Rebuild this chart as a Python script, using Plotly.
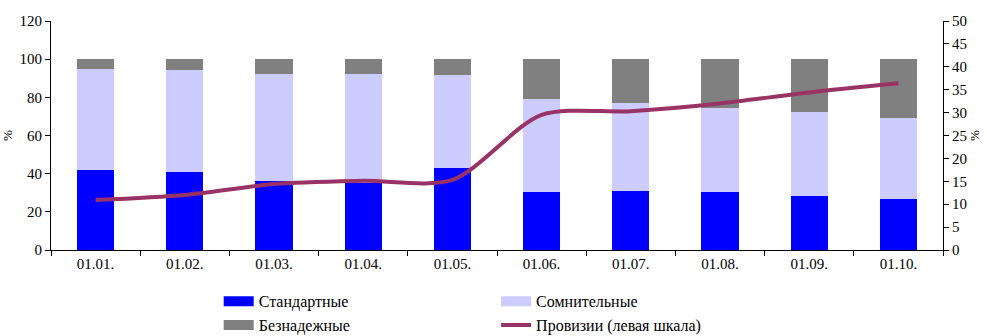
import plotly.graph_objects as go

categories = ["01.01.", "01.02.", "01.03.", "01.04.", "01.05.", "01.06.", "01.07.", "01.08.", "01.09.", "01.10."]
standard = [42.0, 40.7, 36.3, 35.3, 42.8, 30.2, 30.9, 30.2, 28.1, 26.6]
doubtful = [53.0, 53.8, 56.1, 57.1, 48.7, 48.9, 46.0, 44.1, 44.1, 42.7]
hopeless = [5.0, 5.5, 7.6, 7.6, 8.5, 20.9, 23.1, 25.7, 27.8, 30.7]
provisions = [10.9, 12.0, 14.4, 15.1, 15.3, 29.5, 30.3, 32.0, 34.4, 36.4]

left_ticks = [0, 20, 40, 60, 80, 100, 120]
right_ticks = [0, 5, 10, 15, 20, 25, 30, 35, 40, 45, 50]

c_std = "#0000FF"
c_dbt = "#CCCCFF"
c_hop = "#808080"
c_prv = "#993366"
font_family = "Liberation Serif, serif"

fig = go.Figure()
fig.add_bar(x=categories, y=standard, name="Стандартные", marker=dict(color=c_std, line_width=0), showlegend=False)
fig.add_bar(x=categories, y=doubtful, name="Сомнительные", marker=dict(color=c_dbt, line_width=0), showlegend=False)
fig.add_bar(x=categories, y=hopeless, name="Безнадежные", marker=dict(color=c_hop, line_width=0), showlegend=False)
fig.add_scatter(x=categories, y=provisions, name="Провизии (левая шкала)", yaxis="y2", mode="lines",
                line=dict(color=c_prv, width=4, shape="spline", smoothing=0.8), showlegend=False)

# legend entries
def leg(name, color, width, legend, group):
    fig.add_scatter(x=[None], y=[None], name=name, mode="lines", line=dict(color=color, width=width),
                    legend=legend, legendgroup=group, showlegend=True)

leg("Стандартные", c_std, 10, "legend", "a")
leg("Безнадежные", c_hop, 10, "legend", "b")
leg("Сомнительные", c_dbt, 10, "legend2", "c")
leg("Провизии (левая шкала)", c_prv, 4, "legend2", "d")

legend_common = dict(orientation="v", xanchor="left", yanchor="top", yref="container", y=0.154,
                     font=dict(family=font_family, size=16, color="#000"),
                     bgcolor="rgba(0,0,0,0)", tracegroupgap=0, itemwidth=30)

fig.update_layout(
    width=987, height=336,
    margin=dict(l=51, r=44, t=21, b=86),
    paper_bgcolor="white", plot_bgcolor="white",
    barmode="stack", bargap=0.585,
    font=dict(family=font_family, size=15, color="#000"),
    xaxis=dict(showline=True, linecolor="#000", linewidth=1, ticks="outside", tickson="boundaries",
               ticklen=5, tickcolor="#000", showgrid=False, automargin=False,
               tickfont=dict(family=font_family, size=15)),
    yaxis=dict(range=[0, 120], tickvals=left_ticks, showline=True, linecolor="#000", linewidth=1,
               ticks="outside", ticklen=5, tickcolor="#000", showgrid=False, zeroline=False,
               title=dict(text="%", standoff=3, font=dict(family=font_family, size=13)),
               tickfont=dict(family=font_family, size=15), automargin=False),
    yaxis2=dict(range=[0, 50], tickvals=right_ticks, overlaying="y", side="right", showline=True,
                linecolor="#000", linewidth=1, ticks="outside", ticklen=5, tickcolor="#000",
                showgrid=False, zeroline=False,
                title=dict(text="%", standoff=3, font=dict(family=font_family, size=13)),
                tickfont=dict(family=font_family, size=15), automargin=False),
    legend=dict(x=0.188, **legend_common),
    legend2=dict(x=0.499, **legend_common),
)

fig.write_html("out.html")
